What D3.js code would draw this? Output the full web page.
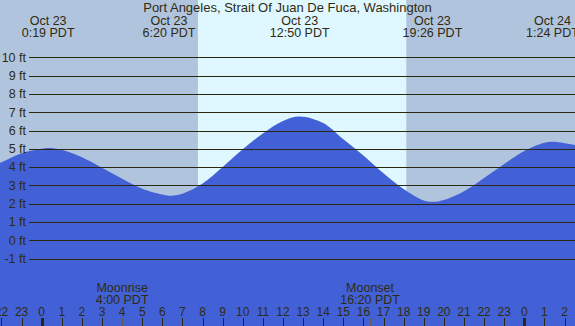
<!DOCTYPE html>
<html>
<head>
<meta charset="utf-8">
<script src="https://cdn.jsdelivr.net/npm/d3@7"></script>
<style>
  body { margin: 0; padding: 0; background: #fff; }
  svg { display: block; font-family: "Liberation Sans", Arial, sans-serif; }
</style>
</head>
<body>
<svg id="tide" width="575" height="326"></svg>
<script>
const W = 575;
const H = 326;
const txt_col = "#2f2b10";
const grid_col = "#2a2810";

// hours counted from Oct 23 00:00 PDT
const tideHours = [-3, -2, -1, 0, 0.32, 1, 2, 3, 4, 5, 6, 6.33, 7, 8, 9, 10, 11, 12, 12.83, 14, 15, 16, 17, 18, 19, 19.43, 20, 21, 22, 23, 24, 25, 25.4, 26, 27];
const tideFeet  = [3.7, 4.26, 4.76, 5.0, 5.05, 4.95, 4.54, 3.97, 3.36, 2.82, 2.5, 2.44, 2.55, 3.1, 4.0, 4.97, 5.84, 6.52, 6.77, 6.41, 5.52, 4.64, 3.67, 2.8, 2.17, 2.1, 2.2, 2.68, 3.41, 4.17, 4.88, 5.33, 5.38, 5.31, 5.1];

const extremeHours = [0.32, 6.33, 12.83, 19.43, 25.4];
const extremeDays  = ["Oct 23", "Oct 23", "Oct 23", "Oct 23", "Oct 24"];
const extremeTimes = ["0:19 PDT", "6:20 PDT", "12:50 PDT", "19:26 PDT", "1:24 PDT"];

const feetTicks = [-1, 0, 1, 2, 3, 4, 5, 6, 7, 8, 9, 10];
const hourTicks = d3.range(-2, 27);

const sunrise = 7.77;
const sunset = 18.13;

const moonNames = ["Moonrise", "Moonset"];
const moonHours = [4.0, 16.33];
const moonTimes = ["4:00 PDT", "16:20 PDT"];

const title = "Port Angeles, Strait Of Juan De Fuca, Washington";

function drawChart() {
    var svg = d3.select("#tide");

    var x = d3.scaleLinear().domain([0, 24]).range([41.7, 524.3]);
    var y = d3.scaleLinear().domain([0, 10]).range([240.3, 57.3]);

    // night background, then daylight band
    svg.append("rect")
        .attr("width", W).attr("height", H)
        .attr("fill", "#b0c4de");
    svg.append("rect")
        .attr("x", x(sunrise)).attr("y", 0)
        .attr("width", x(sunset) - x(sunrise)).attr("height", H)
        .attr("fill", "#dff7ff");

    // tide area
    var area = d3.area()
        .x((d, i) => x(tideHours[i]))
        .y0(H)
        .y1((d) => y(d))
        .curve(d3.curveCatmullRom.alpha(0.5));
    svg.append("path")
        .datum(tideFeet)
        .attr("d", area)
        .attr("fill", "#4261d6");

    // horizontal grid + ft labels
    var grid = svg.append("g");
    grid.selectAll("line")
        .data(feetTicks)
        .enter()
        .append("line")
        .attr("x1", 29).attr("x2", W)
        .attr("y1", (d) => Math.round(y(d)) + 0.5)
        .attr("y2", (d) => Math.round(y(d)) + 0.5)
        .attr("stroke", grid_col)
        .attr("stroke-width", 1);
    grid.selectAll("text")
        .data(feetTicks)
        .enter()
        .append("text")
        .attr("x", 26)
        .attr("y", (d) => y(d))
        .attr("dy", "0.35em")
        .attr("text-anchor", "end")
        .attr("font-size", "12.5px")
        .attr("fill", txt_col)
        .text((d) => d + " ft");

    // title and high/low labels
    svg.append("text")
        .attr("x", W / 2).attr("y", 12)
        .attr("text-anchor", "middle")
        .attr("font-size", "13px")
        .attr("fill", txt_col)
        .text(title);

    var ext = svg.selectAll("g.ext")
        .data(extremeHours)
        .enter()
        .append("g")
        .attr("transform", (d) => "translate(" + x(d) + ",0)");
    ext.append("text")
        .attr("y", 24.5)
        .attr("text-anchor", "middle")
        .attr("font-size", "12.5px")
        .attr("fill", txt_col)
        .text((d, i) => extremeDays[i]);
    ext.append("text")
        .attr("y", 36.5)
        .attr("text-anchor", "middle")
        .attr("font-size", "12.5px")
        .attr("fill", txt_col)
        .text((d, i) => extremeTimes[i]);

    // hour axis at the bottom
    var hours = svg.append("g");
    hours.selectAll("line")
        .data(hourTicks)
        .enter()
        .append("line")
        .attr("x1", (d) => Math.round(x(d)) + 0.5)
        .attr("x2", (d) => Math.round(x(d)) + 0.5)
        .attr("y1", 318).attr("y2", H)
        .attr("stroke", grid_col)
        .attr("stroke-width", (d) => (d % 24 === 0 ? 3 : 1));
    hours.selectAll("text")
        .data(hourTicks)
        .enter()
        .append("text")
        .attr("x", (d) => x(d))
        .attr("y", 316)
        .attr("text-anchor", "middle")
        .attr("font-size", "12px")
        .attr("fill", txt_col)
        .text((d) => ((d % 24) + 24) % 24);

    // moon events
    var moon = svg.selectAll("g.moon")
        .data(moonHours)
        .enter()
        .append("g")
        .attr("transform", (d) => "translate(" + x(d) + ",0)");
    moon.append("line")
        .attr("x1", 0.5).attr("x2", 0.5)
        .attr("y1", 318).attr("y2", H)
        .attr("stroke", "#6b6248")
        .attr("stroke-width", 1);
    moon.append("text")
        .attr("y", 291.5)
        .attr("text-anchor", "middle")
        .attr("font-size", "12.5px")
        .attr("fill", txt_col)
        .text((d, i) => moonNames[i]);
    moon.append("text")
        .attr("y", 303.5)
        .attr("text-anchor", "middle")
        .attr("font-size", "12.5px")
        .attr("fill", txt_col)
        .text((d, i) => moonTimes[i]);
}

drawChart();
</script>
</body>
</html>
